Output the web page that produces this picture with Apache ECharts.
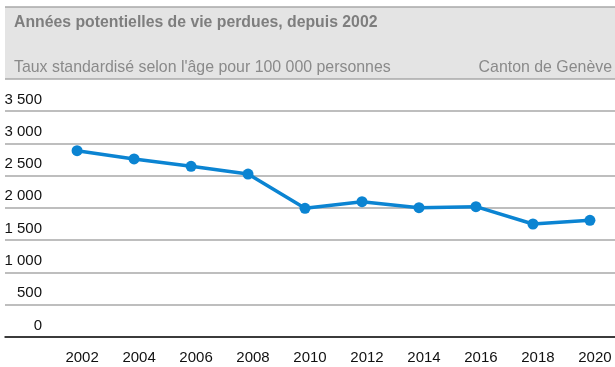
<!DOCTYPE html>
<html>
<head>
<meta charset="utf-8">
<script src="https://cdn.jsdelivr.net/npm/echarts@6/dist/echarts.min.js"></script>
<style>
  html, body { margin: 0; padding: 0; background: #fff; }
  #chart { width: 615px; height: 367px; }
</style>
</head>
<body>
<div id="chart"></div>
<script>
// Années potentielles de vie perdues, canton de Genève
const years = [2002, 2004, 2006, 2008, 2010, 2012, 2014, 2016, 2018, 2020];
const apvp = [2885, 2757, 2643, 2524, 1993, 2095, 2002, 2018, 1750, 1807];
const yTicks = [0, 500, 1000, 1500, 2000, 2500, 3000, 3500];

const titleText = 'Années potentielles de vie perdues, depuis 2002';
const subtitleText = "Taux standardisé selon l'âge pour 100 000 personnes";
const regionText = 'Canton de Genève';

const fontFamily = '"Liberation Sans", Arial, Helvetica, sans-serif';
const fmt = v => String(v).replace(/\B(?=(\d{3})+(?!\d))/g, ' ');

const chart = echarts.init(document.getElementById('chart'));
chart.setOption({
  animation: false,
  backgroundColor: '#fff',
  textStyle: { fontFamily },
  graphic: [
    {
      type: 'rect',
      shape: { x: 5, y: 7, width: 610, height: 72 },
      style: { fill: '#e4e4e4' },
      z: 0
    },
    {
      type: 'line',
      shape: { x1: 5, y1: 7, x2: 615, y2: 7 },
      style: { stroke: '#a8a8a8', lineWidth: 1.5 },
      z: 1
    },
    {
      type: 'line',
      shape: { x1: 5, y1: 79, x2: 615, y2: 79 },
      style: { stroke: '#a8a8a8', lineWidth: 1.5 },
      z: 1
    }
  ],
  title: [
    {
      text: titleText,
      left: 14, top: 15,
      padding: 0,
      textStyle: { fontSize: 15.8, fontWeight: 'bold', color: '#7e7e7e', fontFamily }
    },
    {
      text: subtitleText,
      left: 14, top: 60,
      padding: 0,
      textStyle: { fontSize: 15.9, fontWeight: 'normal', color: '#8a8a8a', fontFamily }
    },
    {
      text: regionText,
      right: 3, top: 60,
      padding: 0,
      textStyle: { fontSize: 15.9, fontWeight: 'normal', color: '#8a8a8a', fontFamily }
    }
  ],
  grid: { left: 5, right: 0, top: 111, bottom: 30, containLabel: false },
  xAxis: {
    type: 'value',
    min: 1999.47,
    max: 2020.88,
    axisLine: { show: true, onZero: false, lineStyle: { color: '#111', width: 1.5 } },
    axisTick: { show: false },
    splitLine: { show: false },
    axisLabel: {
      customValues: years,
      formatter: v => String(v),
      color: '#111',
      fontSize: 15,
      margin: 13,
      padding: [0, 0, 0, 10]
    }
  },
  yAxis: {
    type: 'value',
    min: yTicks[0],
    max: yTicks[yTicks.length - 1],
    interval: 500,
    axisLine: { show: false },
    axisTick: { show: false },
    splitLine: { show: true, lineStyle: { color: '#a8a8a8', width: 1.5 } },
    axisLabel: {
      inside: true,
      margin: 37,
      align: 'right',
      verticalAlign: 'bottom',
      padding: [0, 0, 4, 0],
      color: '#111',
      fontSize: 15,
      formatter: v => fmt(v)
    }
  },
  series: [{
    type: 'line',
    data: years.map((y, i) => [y, apvp[i]]),
    color: '#0b84d2',
    lineStyle: { width: 3.5, color: '#0b84d2' },
    symbol: 'circle',
    symbolSize: 11,
    itemStyle: { color: '#0b84d2' },
    z: 5
  }]
});
</script>
</body>
</html>
